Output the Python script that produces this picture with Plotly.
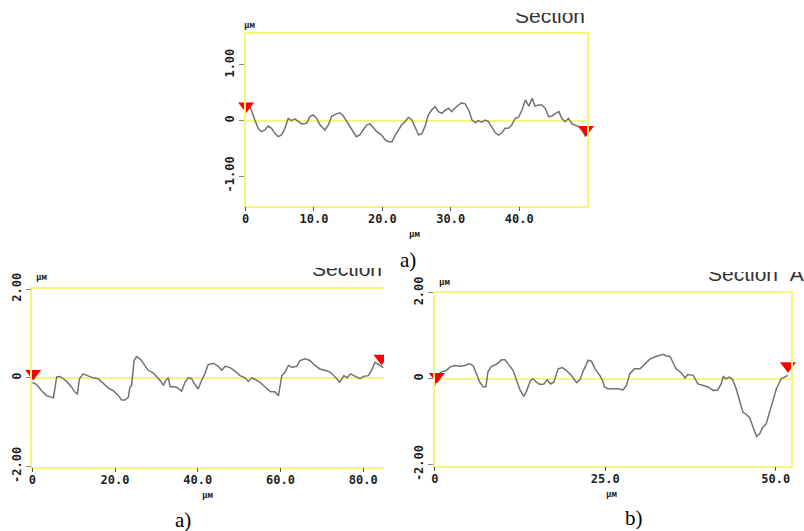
import plotly.graph_objects as go

W, H = 804, 531

# ---------------- data ----------------
top_x = [0, 0.6, 1.37, 1.85, 2.34, 2.83, 3.32, 3.8, 4.29, 4.78,
         5.27, 5.76, 6.24, 6.73, 7.22, 7.7, 8.2, 8.93, 9.4, 9.9,
         10.4, 10.9, 11.6, 12.1, 12.6, 13.3, 13.8, 14.3, 14.8, 15.3,
         15.8, 16.2, 16.7, 17.2, 17.7, 18.2, 18.7, 19.2, 19.9, 20.4,
         20.9, 21.4, 21.9, 22.3, 22.8, 23.3, 23.8, 24.3, 24.8, 25.3,
         25.8, 26.3, 26.7, 27.2, 27.7, 28.2, 28.7, 29.2, 29.7, 30.1,
         30.6, 31.1, 31.6, 32.1, 32.6, 33.1, 33.6, 34.0, 34.5, 35.0,
         35.5, 36.0, 36.5, 37.0, 37.5, 37.9, 38.4, 38.9, 39.4, 39.9,
         40.4, 40.9, 41.4, 41.9, 42.3, 42.8, 43.3, 43.8, 44.3, 44.8,
         45.3, 45.8, 46.2, 46.7, 47.2, 47.7, 48.2, 48.7, 49.2, 49.7]
top_y = [0.15, 0.27, 0.01, -0.14, -0.2, -0.17, -0.1, -0.14, -0.23, -0.29,
         -0.26, -0.14, 0.04, 0.0, 0.03, -0.02, -0.06, -0.05, 0.07, 0.1,
         0.04, -0.08, -0.17, -0.08, 0.08, 0.12, 0.14, 0.08, -0.02, -0.11,
         -0.2, -0.29, -0.26, -0.17, -0.08, -0.06, -0.14, -0.2, -0.26, -0.35,
         -0.38, -0.38, -0.26, -0.17, -0.08, -0.02, 0.06, 0.01, -0.14, -0.26,
         -0.23, -0.08, 0.1, 0.19, 0.25, 0.16, 0.13, 0.19, 0.22, 0.16,
         0.22, 0.28, 0.32, 0.3, 0.19, 0.01, -0.04, 0.0, -0.03, 0.01,
         -0.02, -0.11, -0.22, -0.26, -0.22, -0.14, -0.14, -0.08, 0.04, 0.06,
         0.19, 0.37, 0.26, 0.4, 0.26, 0.28, 0.28, 0.22, 0.07, 0.08,
         0.13, 0.16, 0.04, -0.02, 0.04, -0.06, -0.08, -0.11, -0.17, -0.29]

bl_x = [0, 1.05, 2.26, 3.46, 4.67, 5.1, 5.9, 6.7, 7.5, 8.3,
        9.5, 10.3, 10.9, 11.4, 12.3, 13.5, 14.7, 15.95, 17.2, 18.4,
        19.6, 20.8, 21.6, 22.4, 23.2, 23.6, 24.0, 24.6, 25.2, 26.2,
        27.2, 28.0, 29.2, 30.1, 30.9, 31.7, 32.2, 32.9, 33.3, 34.1,
        34.9, 36.1, 36.9, 37.7, 38.5, 39.3, 40.1, 40.9, 41.7, 42.5,
        43.75, 44.96, 45.8, 46.6, 47.8, 49.0, 50.2, 51.4, 52.2, 53.0,
        53.8, 55.0, 56.2, 57.5, 58.7, 59.5, 60.3, 61.1, 61.9, 62.7,
        63.9, 64.7, 65.9, 67.1, 68.3, 69.5, 70.7, 71.96, 73.2, 74.3,
        75.3, 76.1, 76.9, 78.0, 79.2, 80.0, 81.2, 82.0, 82.8, 84.0,
        84.85]
bl_y = [-0.1, -0.15, -0.29, -0.4, -0.44, -0.45, 0.02, 0.03, -0.02, -0.08,
        -0.21, -0.32, -0.36, -0.02, 0.09, 0.05, 0.0, -0.02, -0.12, -0.23,
        -0.29, -0.4, -0.5, -0.5, -0.44, -0.21, -0.17, 0.39, 0.48, 0.41,
        0.28, 0.17, 0.11, 0.02, -0.06, -0.17, -0.06, 0.0, -0.2, -0.2,
        -0.21, -0.3, -0.1, 0.0, -0.02, -0.15, -0.25, -0.06, 0.09, 0.3,
        0.33, 0.26, 0.17, 0.26, 0.23, 0.15, 0.05, 0.0, -0.08, 0.0,
        -0.03, -0.1, -0.21, -0.31, -0.32, -0.4, 0.05, 0.13, 0.28, 0.24,
        0.26, 0.39, 0.43, 0.39, 0.28, 0.2, 0.17, 0.13, 0.02, -0.1,
        0.05, 0.0, 0.09, 0.03, -0.02, 0.03, 0.05, 0.17, 0.35, 0.28,
        0.23]

br_x = [0, 0.34, 0.98, 1.7, 2.2, 2.9, 3.7, 4.4, 5.1, 5.6,
        6.1, 6.6, 7.1, 7.5, 7.8, 8.3, 9.0, 9.8, 10.3, 10.75,
        11.5, 12.0, 12.5, 13.05, 13.4, 14.0, 14.4, 14.9, 15.4, 16.0,
        16.5, 16.96, 17.45, 18.1, 18.7, 19.3, 20.0, 20.8, 21.3, 21.8,
        22.5, 22.97, 23.5, 24.2, 24.6, 24.9, 25.4, 26.1, 26.9, 27.6,
        28.1, 28.6, 29.3, 30.1, 30.8, 31.5, 32.3, 33.0, 33.5, 34.0,
        34.5, 34.9, 35.4, 36.2, 36.7, 37.1, 37.9, 38.6, 39.3, 40.1,
        40.8, 41.5, 42.0, 42.3, 42.7, 43.2, 43.7, 44.2, 44.7, 45.2,
        45.7, 46.2, 46.7, 47.2, 47.65, 48.1, 48.6, 49.1, 49.6, 50.1,
        50.8, 51.6, 51.8]
br_y = [-0.16, 0.08, 0.16, 0.19, 0.27, 0.31, 0.29, 0.31, 0.35, 0.31,
        0.12, -0.08, -0.19, -0.18, 0.16, 0.29, 0.33, 0.44, 0.44, 0.35,
        0.19, -0.04, -0.26, -0.41, -0.31, -0.05, 0.0, -0.08, -0.13, -0.12,
        -0.02, -0.12, -0.08, 0.23, 0.26, 0.19, 0.08, -0.09, -0.02, 0.19,
        0.43, 0.41, 0.23, 0.08, -0.04, -0.19, -0.23, -0.23, -0.23, -0.26,
        -0.16, 0.12, 0.23, 0.23, 0.35, 0.45, 0.51, 0.54, 0.57, 0.53,
        0.52, 0.39, 0.23, 0.13, 0.02, 0.1, 0.08, -0.12, -0.16, -0.19,
        -0.27, -0.26, -0.12, 0.05, 0.0, 0.04, -0.02, -0.23, -0.51, -0.78,
        -0.83, -0.91, -1.13, -1.34, -1.28, -1.13, -1.05, -0.78, -0.51, -0.23,
        0.0, 0.05, 0.08]

# cursor markers (x, y)
top_mk_x = [0.1, 49.75]
top_mk_y = [0.26, -0.16]
bl_mk_x = [0.2, 84.4]
bl_mk_y = [0.1, 0.44]
br_mk_x = [0.3, 51.8]
br_mk_y = [0.05, 0.3]

top_xticks = [0, 10, 20, 30, 40]
top_xtext = ["0", "10.0", "20.0", "30.0", "40.0"]
top_yticks = [-1, 0, 1]
top_ytext = ["-1.00", "0", "1.00"]
bl_xticks = [0, 20, 40, 60, 80]
bl_xtext = ["0", "20.0", "40.0", "60.0", "80.0"]
br_xticks = [0, 25, 50]
br_xtext = ["0", "25.0", "50.0"]
b_yticks = [-2, 0, 2]
b_ytext = ["-2.00", "0", "2.00"]

section_texts = ["Section", "Section", "Section\u00a0\u00a0A"]
captions = ["a)", "a)", "b)"]
unit = "\u00b5\u043c"

# ---------------- styling ----------------
YEL = "#f6f67c"
LINE = "#727272"
TICKFONT = dict(family="DejaVu Sans Mono", size=12, color="#1e1e1e", weight="bold")


def px_x(p):
    return p / W


def px_y(p):
    return 1 - p / H


fig = go.Figure()

# profiles
fig.add_trace(go.Scatter(x=top_x, y=top_y, mode="lines", line=dict(color=LINE, width=1.5),
                         xaxis="x", yaxis="y", showlegend=False))
fig.add_trace(go.Scatter(x=bl_x, y=bl_y, mode="lines", line=dict(color=LINE, width=1.5),
                         xaxis="x2", yaxis="y2", showlegend=False))
fig.add_trace(go.Scatter(x=br_x, y=br_y, mode="lines", line=dict(color=LINE, width=1.5),
                         xaxis="x3", yaxis="y3", showlegend=False))

mk = dict(symbol="triangle-down", size=14, color="#ff0000", line=dict(width=0))
fig.add_trace(go.Scatter(x=top_mk_x, y=top_mk_y, mode="markers", marker=mk, cliponaxis=False,
                         xaxis="x", yaxis="y", showlegend=False))
fig.add_trace(go.Scatter(x=bl_mk_x[:1], y=bl_mk_y[:1], mode="markers", marker=mk, cliponaxis=False,
                         xaxis="x2", yaxis="y2", showlegend=False))
fig.add_trace(go.Scatter(x=bl_mk_x[1:], y=bl_mk_y[1:], mode="markers", marker=mk, cliponaxis=True,
                         xaxis="x2", yaxis="y2", showlegend=False))
fig.add_trace(go.Scatter(x=br_mk_x, y=br_mk_y, mode="markers", marker=mk, cliponaxis=False,
                         xaxis="x3", yaxis="y3", showlegend=False))

# clipped "Section" headers (drawn on pixel-like helper axes so they get cut as in the source)
sec_font = dict(family="Liberation Sans", size=21, color="#333333")
sec_pos = [(515, 18), (312, 271), (708, 276)]
for i, (t, (sx, sy)) in enumerate(zip(section_texts, sec_pos)):
    n = 4 + i
    fig.add_trace(go.Scatter(x=[sx], y=[sy], mode="text", text=[t], textposition="middle right",
                             textfont=sec_font, cliponaxis=True, hoverinfo="skip",
                             xaxis=f"x{n}", yaxis=f"y{n}", showlegend=False))


def xax(dom, rng, tv, tt, anchor, mirror=True):
    return dict(domain=dom, range=rng, anchor=anchor, tickmode="array", tickvals=tv, ticktext=tt,
                ticks="outside", ticklen=4, tickwidth=1, tickcolor="#555555",
                ticklabelstandoff=-3,
                showline=True, linecolor=YEL, linewidth=1.5, mirror=mirror, automargin=False,
                showgrid=False, zeroline=False, tickfont=TICKFONT, fixedrange=True)


def yax(dom, rng, tv, tt, anchor, mirror=True):
    return dict(domain=dom, range=rng, anchor=anchor, tickmode="array", tickvals=tv, ticktext=tt,
                ticks="outside", ticklen=5, tickwidth=1, tickcolor="#888888",
                showline=True, linecolor=YEL, linewidth=1.5, mirror=mirror, automargin=False,
                showgrid=False, zeroline=True, zerolinecolor=YEL, zerolinewidth=1.5,
                tickangle=-90, tickfont=TICKFONT, fixedrange=True)


def helper(dom, rng):
    return dict(domain=dom, range=rng, visible=False, showgrid=False, zeroline=False,
                automargin=False, fixedrange=True)


layout = dict(
    width=W, height=H, autosize=False,
    margin=dict(l=0, r=0, t=0, b=0, pad=0, autoexpand=False),
    paper_bgcolor="white", plot_bgcolor="rgba(0,0,0,0)",
    xaxis=xax([px_x(245.5), px_x(587)], [0, 49.9], top_xticks, top_xtext, "y"),
    yaxis=yax([px_y(205.7), px_y(34.3)], [-1.53, 1.55], top_yticks, top_ytext, "x"),
    xaxis2=xax([px_x(32.3), px_x(384)], [0, 85], bl_xticks, bl_xtext, "y2"),
    yaxis2=yax([px_y(466.7), px_y(289)], [-2, 2], b_yticks, b_ytext, "x2", mirror=False),
    xaxis3=xax([px_x(434.8), px_x(790.7)], [0, 52.2], br_xticks, br_xtext, "y3"),
    yaxis3=yax([px_y(465.7), px_y(292.7)], [-2.02, 2.0], b_yticks, b_ytext, "x3"),
    xaxis4=helper([0, 1], [0, W]),
    yaxis4=helper([px_y(45), px_y(13)], [45, 13]),
    xaxis5=helper([0, px_x(384)], [0, 384]),
    yaxis5=helper([px_y(290), px_y(268)], [290, 268]),
    xaxis6=helper([0, 1], [0, W]),
    yaxis6=helper([px_y(295), px_y(272)], [295, 272]),
)
for n in (4, 5, 6):
    layout[f"xaxis{n}"]["anchor"] = f"y{n}"
    layout[f"yaxis{n}"]["anchor"] = f"x{n}"
fig.update_layout(**layout)

unit_font = dict(family="DejaVu Sans Mono", size=9, color="#1e1e1e", weight="bold")
cap_font = dict(family="Liberation Serif", size=21, color="#000000")
ann = []
# axis unit labels
for (ux, uy) in [(250, 25), (41, 277), (444, 282), (415, 234), (207, 495), (611, 494)]:
    ann.append(dict(x=px_x(ux), y=px_y(uy), xref="paper", yref="paper", text=unit,
                    showarrow=False, font=unit_font, xanchor="center", yanchor="middle"))
for t, (cx, cy) in zip(captions, [(408, 260), (183, 520), (634, 518)]):
    ann.append(dict(x=px_x(cx), y=px_y(cy), xref="paper", yref="paper", text=t,
                    showarrow=False, font=cap_font, xanchor="center", yanchor="middle"))
fig.update_layout(annotations=ann)

fig.write_html("out.html",
               config={"displayModeBar": False, "responsive": False},
               post_script="document.body.style.margin='0px';document.body.style.overflow='hidden';")
